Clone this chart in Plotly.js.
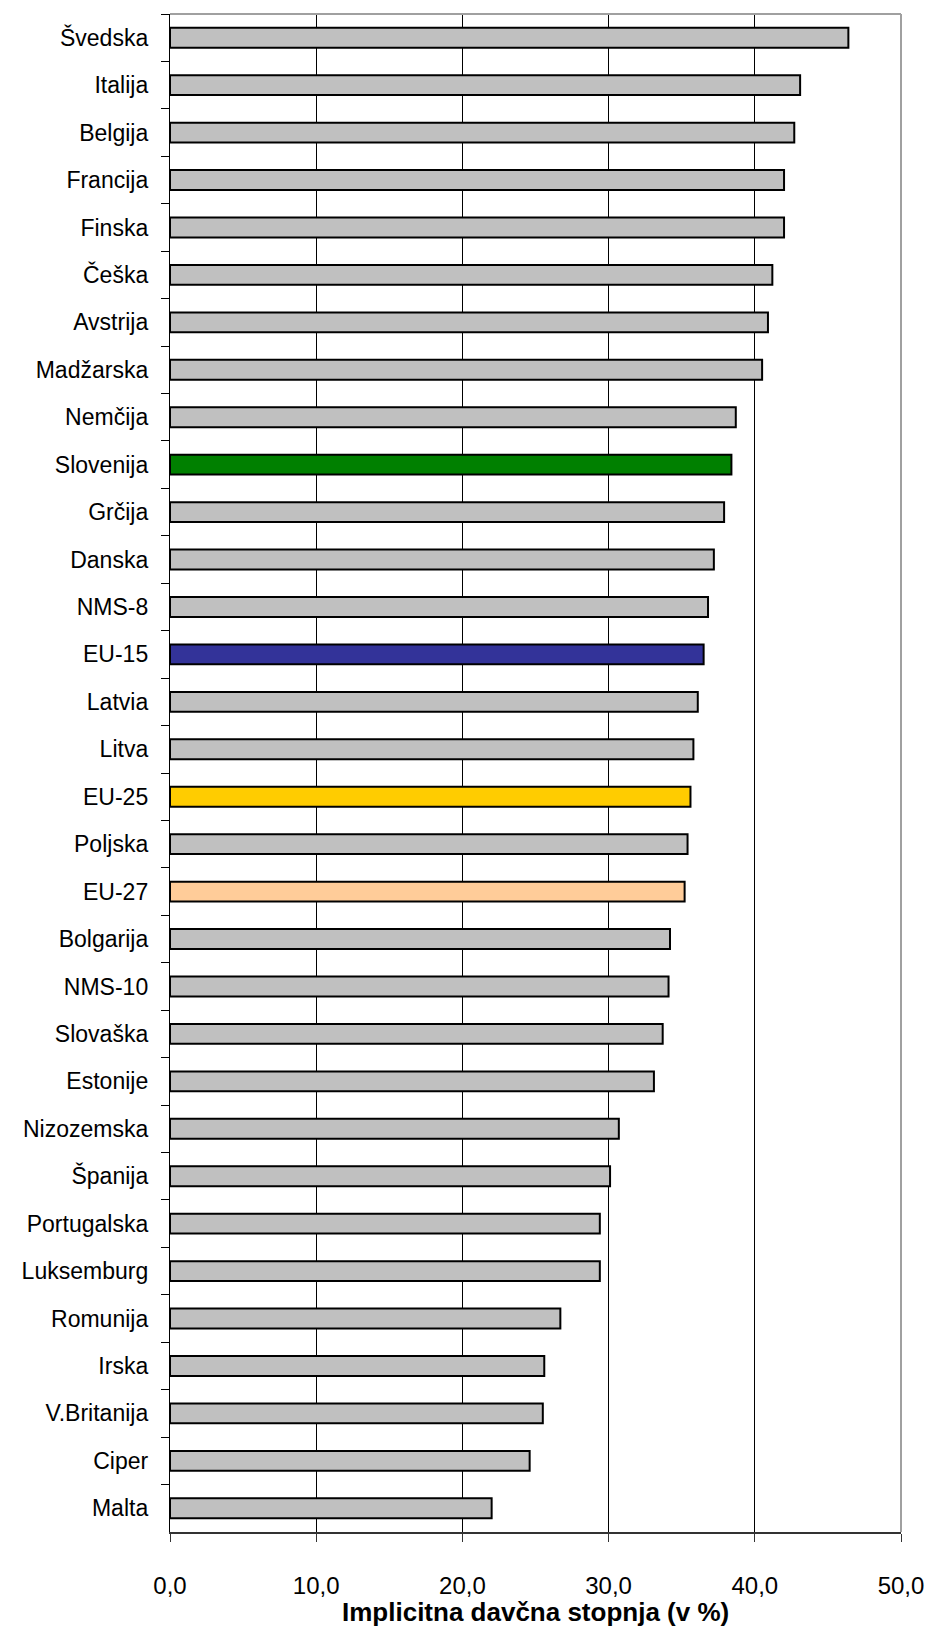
<!DOCTYPE html>
<html>
<head>
<meta charset="utf-8">
<script src="https://cdn.plot.ly/plotly-3.0.1.min.js"></script>
<style>
  html, body { margin: 0; padding: 0; background: #fff; }
  #chart { width: 931px; height: 1632px; }
</style>
</head>
<body>
<div id="chart"></div>
<script>
// Implicit tax rate by country / group, top to bottom
const countries = [
  "Švedska", "Italija", "Belgija", "Francija", "Finska", "Češka", "Avstrija",
  "Madžarska", "Nemčija", "Slovenija", "Grčija", "Danska", "NMS-8", "EU-15",
  "Latvia", "Litva", "EU-25", "Poljska", "EU-27", "Bolgarija", "NMS-10",
  "Slovaška", "Estonije", "Nizozemska", "Španija", "Portugalska", "Luksemburg",
  "Romunija", "Irska", "V.Britanija", "Ciper", "Malta"
];
const rates = [
  46.4, 43.1, 42.7, 42.0, 42.0, 41.2, 40.9,
  40.5, 38.7, 38.4, 37.9, 37.2, 36.8, 36.5,
  36.1, 35.8, 35.6, 35.4, 35.2, 34.2, 34.1,
  33.7, 33.1, 30.7, 30.1, 29.4, 29.4,
  26.7, 25.6, 25.5, 24.6, 22.0
];
const xTicks = [0, 10, 20, 30, 40, 50];
const xTitle = "Implicitna davčna stopnja (v %)";

// Highlighted entries get their own fill; everything else is grey
const highlight = {
  "Slovenija": "#008000",
  "EU-15": "#333399",
  "EU-25": "#FFCC00",
  "EU-27": "#FFCC99"
};
const barColors = countries.map(c => highlight[c] || "#C0C0C0");

const font = "'Liberation Sans', Arial, 'DejaVu Sans', sans-serif";

const trace = {
  type: "bar",
  orientation: "h",
  y: countries,
  x: rates,
  marker: { color: barColors, line: { color: "#000000", width: 2 } },
  hoverinfo: "skip"
};

const layout = {
  width: 931,
  height: 1632,
  margin: { l: 170, r: 30, t: 14, b: 100, pad: 0 },
  paper_bgcolor: "#ffffff",
  plot_bgcolor: "#ffffff",
  showlegend: false,
  bargap: 0.58,
  separators: ",.",
  font: { family: font, color: "#000000", size: 23 },
  xaxis: {
    range: [0, 50],
    tickvals: xTicks,
    tickformat: ".1f",
    ticks: "outside",
    ticklen: 8,
    tickwidth: 1,
    tickcolor: "#333333",
    ticklabelstandoff: 24,
    tickfont: { family: font, size: 24, color: "#000000" },
    showgrid: true,
    gridcolor: "#000000",
    gridwidth: 1,
    zeroline: false,
    showline: true,
    linecolor: "#333333",
    linewidth: 1.5,
    fixedrange: true
  },
  yaxis: {
    type: "category",
    autorange: "reversed",
    ticks: "outside",
    tickson: "boundaries",
    ticklen: 8,
    tickwidth: 1,
    tickcolor: "#000000",
    ticklabelstandoff: 16,
    tickfont: { family: font, size: 23, color: "#000000" },
    showgrid: false,
    zeroline: false,
    showline: true,
    linecolor: "#000000",
    linewidth: 1.2,
    fixedrange: true
  },
  annotations: [
    // x-axis title, placed under the tick labels
    { text: "<b>" + xTitle + "</b>", xref: "paper", yref: "paper",
      x: 0.5, y: 0, xanchor: "center", yanchor: "middle", yshift: -80,
      showarrow: false, font: { family: font, size: 26, color: "#000000" } }
  ],
  shapes: [
    // grey plot-area frame on the top and right sides
    { type: "line", xref: "paper", yref: "paper", x0: 0, x1: 1, y0: 1, y1: 1,
      line: { color: "#A0A0A0", width: 2 } },
    { type: "line", xref: "paper", yref: "paper", x0: 1, x1: 1, y0: 0, y1: 1,
      line: { color: "#A0A0A0", width: 2 } }
  ]
};

Plotly.newPlot("chart", [trace], layout, { displayModeBar: false, staticPlot: true });
</script>
</body>
</html>
